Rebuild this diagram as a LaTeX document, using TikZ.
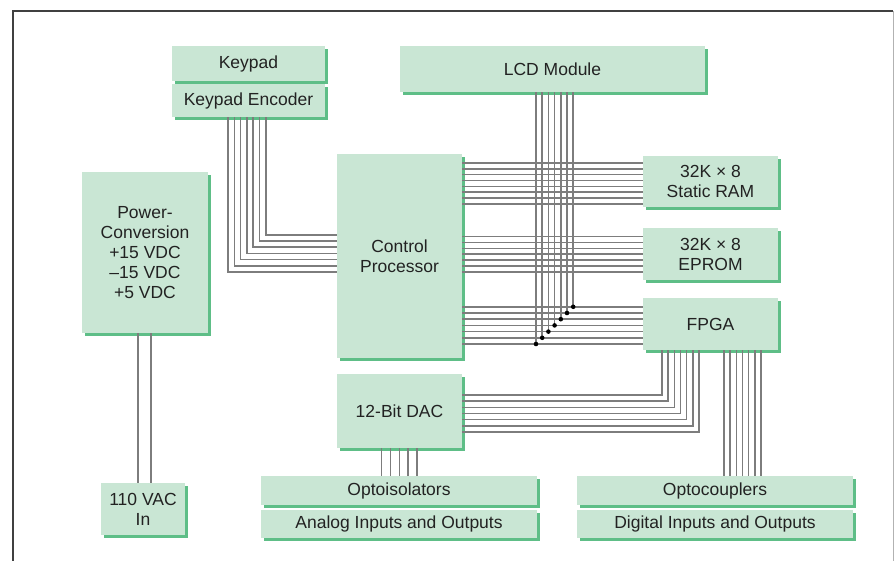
\documentclass[tikz,border=0pt]{standalone}
\usepackage{fontspec}
\setmainfont{Liberation Sans}
\usetikzlibrary{calc,shadows}

\definecolor{boxgreen}{RGB}{201,230,212}
\definecolor{shadegreen}{RGB}{94,190,135}
\definecolor{wiregray}{RGB}{125,125,125}
\definecolor{textgray}{RGB}{34,34,34}

\tikzset{
	blk/.style={fill=boxgreen, text=textgray, align=center, inner sep=0pt,
		drop shadow={opacity=1, fill=shadegreen, shadow xshift=3pt, shadow yshift=-3pt},
		font=\fontsize{17.5}{20}\selectfont},
	wire/.style={draw=wiregray, line width=1.5pt}
}

\begin{document}
\begin{tikzpicture}[x=1pt,y=-1pt]
		\useasboundingbox (0,0) rectangle (894,561);
		
		% frame
		\draw[line width=1.6pt, black!75] (13,561) -- (13,11) -- (893,11);
		\draw[line width=1pt, black!30] (893,11) -- (893,561);
		
		% blocks
		\node[blk, minimum width=153, minimum height=35] (key) at (248.5,63.5) {Keypad};
		\node[blk, minimum width=153, minimum height=33] (kenc) at (248.5,100.5) {Keypad Encoder};
		\node[blk, minimum width=305, minimum height=46] (lcd) at (552.5,69) {LCD Module};
		\node[blk, minimum width=126, minimum height=161] (pwr) at (145,252.5)
			{Power-\\Conversion\\+15 VDC\\–15 VDC\\+5 VDC};
		\node[blk, minimum width=84, minimum height=52] (ac) at (143,509) {110 VAC\\In};
		\node[blk, minimum width=125, minimum height=204] (cpu) at (399.5,256) {Control\\Processor};
		\node[blk, minimum width=135, minimum height=51] (ram) at (710.5,181.5) {32K × 8\\Static RAM};
		\node[blk, minimum width=135, minimum height=52] (rom) at (710.5,254) {32K × 8\\EPROM};
		\node[blk, minimum width=135, minimum height=52] (fpga) at (710.5,324) {FPGA};
		\node[blk, minimum width=125, minimum height=74] (dac) at (399.5,411) {12-Bit DAC};
		\node[blk, minimum width=276, minimum height=29] (iso) at (399,490.5) {Optoisolators};
		\node[blk, minimum width=276, minimum height=28] (ana) at (399,524) {Analog Inputs and Outputs};
		\node[blk, minimum width=276, minimum height=29] (cpl) at (715,490.5) {Optocouplers};
		\node[blk, minimum width=276, minimum height=28] (dig) at (715,524) {Digital Inputs and Outputs};
		
		% keypad bus
		\foreach \i in {0,...,6}
			\draw[wire] ($(kenc.south)+(\i*6.3-20.5,0)$) |- ($(cpu.west)+(0,16-\i*6.2)$);
		
		% RAM and EPROM buses
		\foreach \j in {0,...,7}{
			\coordinate (r\j) at ($(ram.west)+(0,\j*5.85-18.5)$);
			\draw[wire] (cpu.east |- r\j) -- (r\j);
		}
		\foreach \j in {0,...,6}{
			\coordinate (e\j) at ($(rom.west)+(0,\j*5.85-17.3)$);
			\draw[wire] (cpu.east |- e\j) -- (e\j);
		}
		
		% FPGA bus with LCD taps
		\foreach \i in {0,...,6}{
			\coordinate (f\i) at ($(fpga.west)+(0,20-\i*6.2)$);
			\draw[wire] (cpu.east |- f\i) -- (f\i);
			\coordinate (l\i) at ($(lcd.south)+(\i*6.2-16.5,0)$);
			\draw[wire] (l\i) -- (l\i |- f\i);
			\fill (l\i |- f\i) circle[radius=2.3];
		}
		
		% FPGA to DAC and optocouplers
		\foreach \i in {0,...,6}{
			\draw[wire] ($(fpga.south)+(\i*6.17-48.5,0)$) |- ($(dac.east)+(0,\i*6.17-16)$);
			\coordinate (c\i) at ($(fpga.south)+(\i*6.17+13.5,0)$);
			\draw[wire] (c\i) -- (c\i |- cpl.north);
		}
		
		% DAC to optoisolators
		\foreach \i in {0,...,4}{
			\coordinate (d\i) at ($(dac.south)+(\i*8.8-17.8,0)$);
			\draw[wire] (d\i) -- (d\i |- iso.north);
		}
		
		% power lines
		\foreach \dx in {-7,6}{
			\coordinate (p\dx) at ($(pwr.south)+(\dx,0)$);
			\draw[wire] (p\dx) -- (p\dx |- ac.north);
		}
		
	\end{tikzpicture}
\end{document}
